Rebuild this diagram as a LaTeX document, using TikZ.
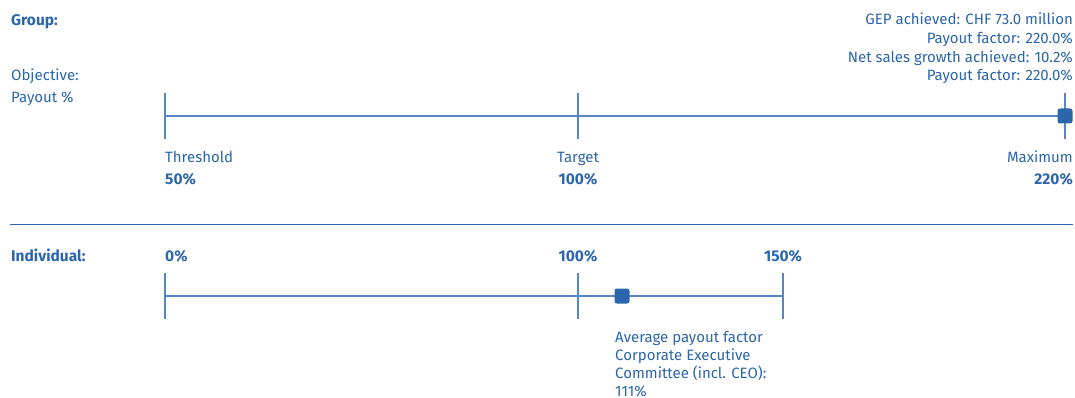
\documentclass[tikz,border=0pt]{standalone}
\usepackage{fontspec}
\setmainfont{Fira Sans}
\definecolor{tblue}{RGB}{43,101,172}
\definecolor{lblue}{RGB}{88,134,196}
\begin{document}
\begin{tikzpicture}[x=1pt,y=-1pt,
  txt/.style={inner sep=0pt,font=\fontsize{15}{18.7}\selectfont,text=tblue},
  btxt/.style={txt,font=\fontsize{15.5}{18.7}\selectfont\bfseries},
  axis/.style={draw=lblue,line width=1.1pt},
  marker/.style={fill=tblue,rounded corners=2.5pt,minimum size=15pt,inner sep=0pt}]
\useasboundingbox (0,0) rectangle (1075,398);
% Group
\node[btxt,anchor=base west] (group) at (11,26) {Group:};
\node[txt,anchor=base west] (obj) at (11,81) {Objective:};
\node[txt,anchor=base west] (pay) at (11,103) {Payout \%};
\coordinate (g0) at (165,116);
\coordinate (g1) at (578,116);
\coordinate (g2) at (1065,116);
\draw[axis] (g0) -- (g2);
\foreach \p in {g0,g1,g2} \draw[axis] ([yshift=-23pt]\p) -- ([yshift=23pt]\p);
\node[marker] (gm) at (g2) {};
\node[txt,anchor=base east,align=right] (gep) at (1073,81) {GEP achieved: CHF 73.0 million\\Payout factor: 220.0\%\\Net sales growth achieved: 10.2\%\\Payout factor: 220.0\%};
\node[txt,anchor=base west] (thr) at (165,163) {Threshold};
\node[btxt,anchor=base west] (thrv) at (165,185) {50\%};
\node[txt,anchor=base] (tgt) at (578,163) {Target};
\node[btxt,anchor=base] (tgtv) at (578,185) {100\%};
\node[txt,anchor=base east] (max) at (1073,163) {Maximum};
\node[btxt,anchor=base east] (maxv) at (1073,185) {220\%};
% separator
\coordinate (s0) at (10,224);
\coordinate (s1) at (1073,224);
\draw[draw=tblue,line width=0.9pt] (s0) -- (s1);
% Individual
\node[btxt,anchor=base west] (ind) at (11,261) {Individual:};
\node[btxt,anchor=base west] (i0l) at (165,261) {0\%};
\node[btxt,anchor=base] (i1l) at (578,261) {100\%};
\node[btxt,anchor=base] (i2l) at (783,261) {150\%};
\coordinate (i0) at (165,296);
\coordinate (i1) at (578,296);
\coordinate (i2) at (783,296);
\draw[axis] (i0) -- (i2);
\foreach \p in {i0,i1,i2} \draw[axis] ([yshift=-23pt]\p) -- ([yshift=23pt]\p);
\node[marker] (im) at (622,296) {};
\node[txt,anchor=base west,align=left,font=\fontsize{15}{18}\selectfont] (avg) at (615,396) {Average payout factor\\Corporate Executive\\Committee (incl. CEO):\\111\%};
\end{tikzpicture}
\end{document}
